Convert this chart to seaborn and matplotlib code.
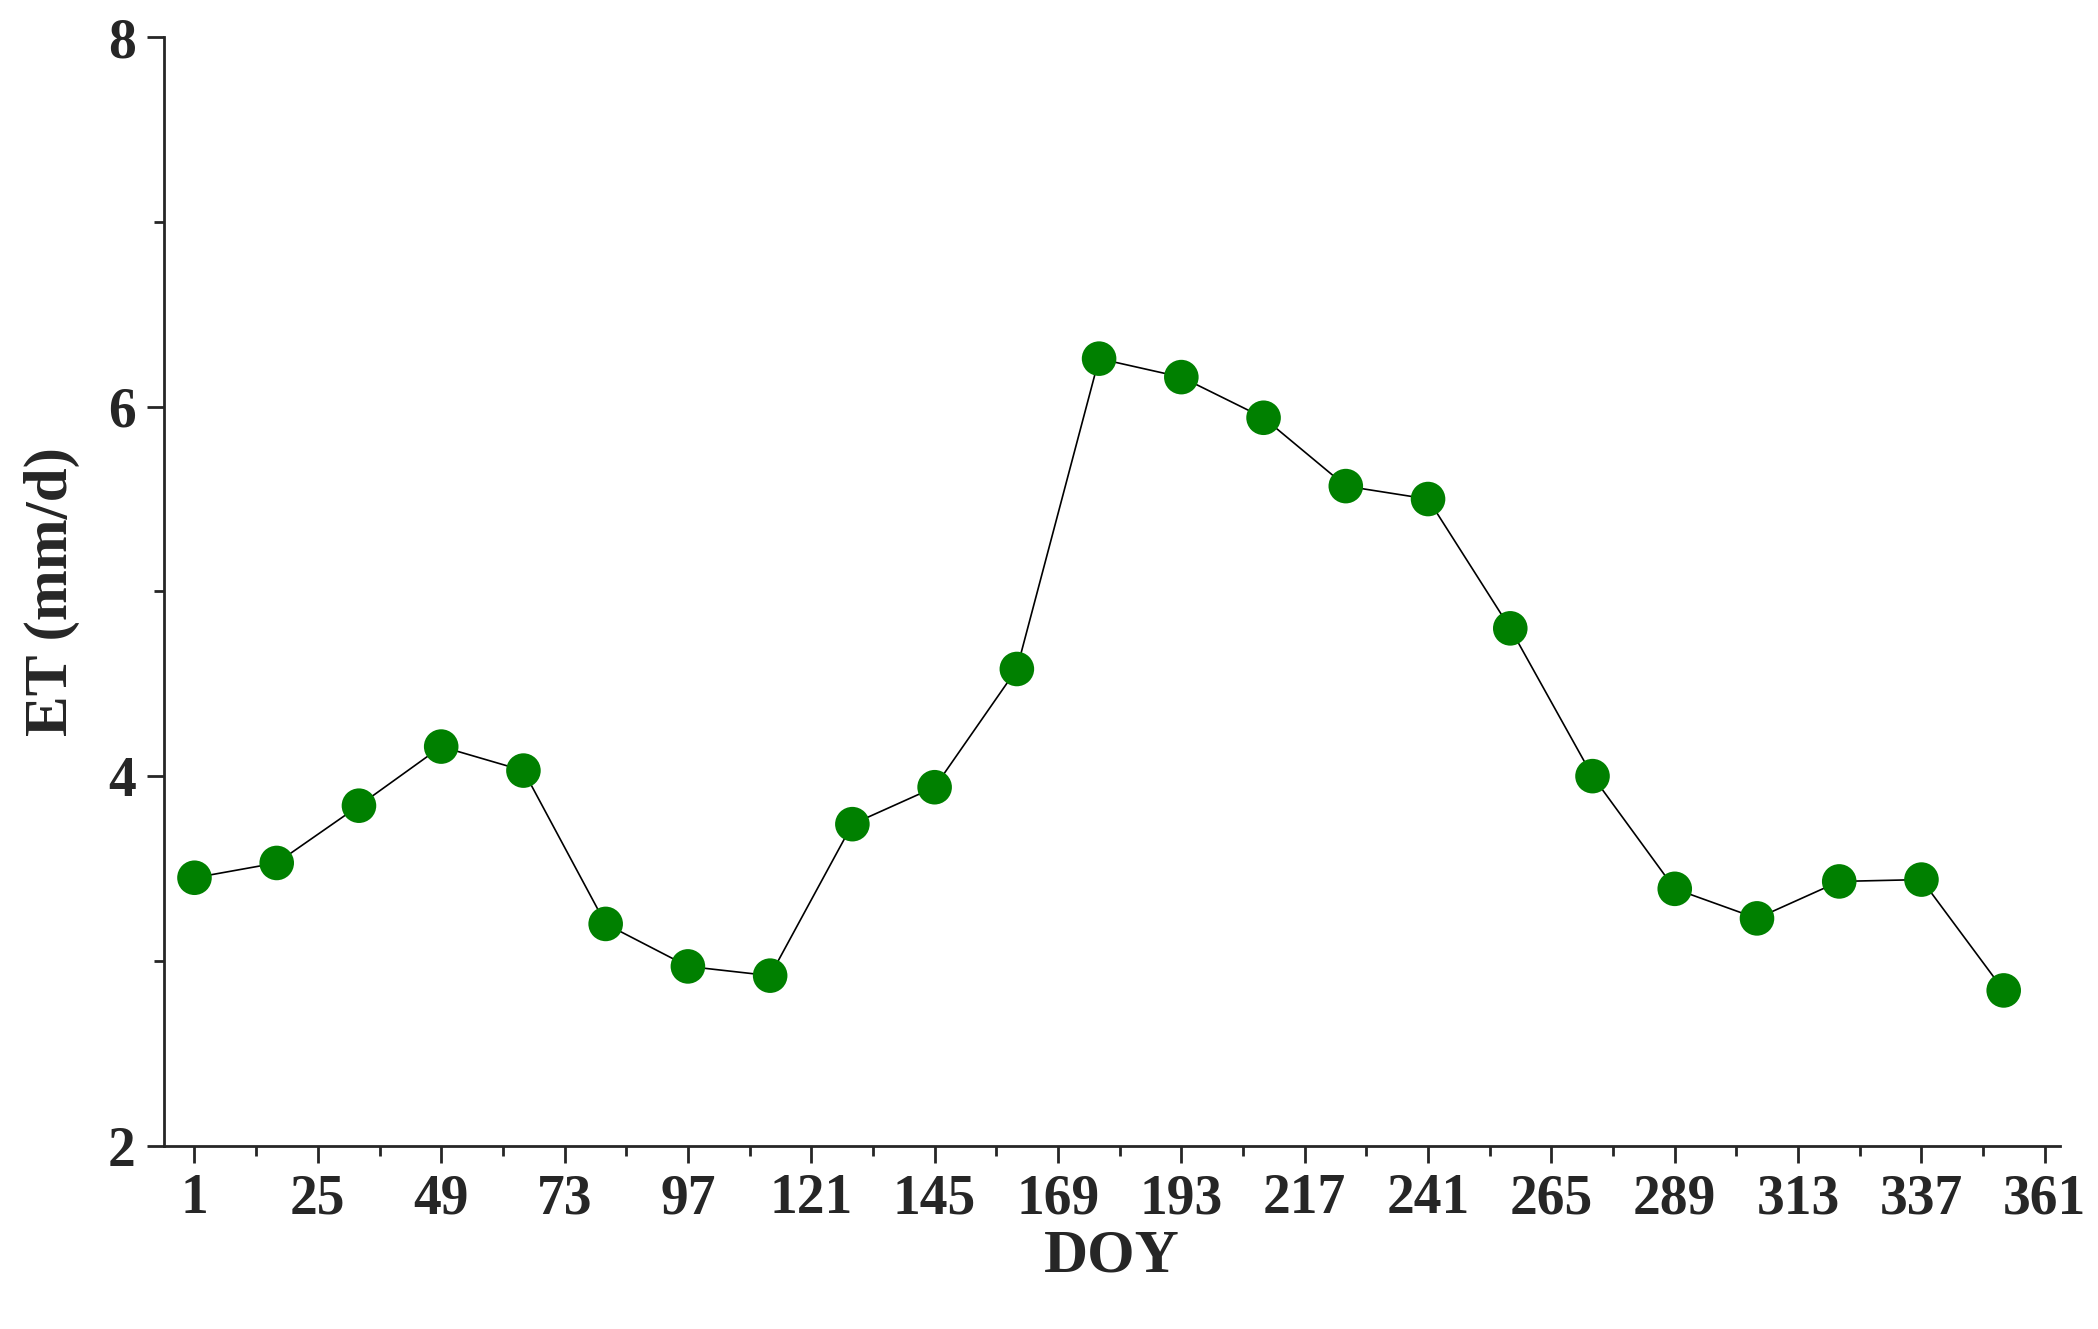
import numpy as np
import pandas as pd
import matplotlib
matplotlib.use("Agg")
import matplotlib.pyplot as plt
import seaborn as sns
from matplotlib.ticker import MultipleLocator

# 16-day composite ET values
doy = [1, 17, 33, 49, 65, 81, 97, 113, 129, 145, 161, 177,
       193, 209, 225, 241, 257, 273, 289, 305, 321, 337, 353]
et = [3.45, 3.53, 3.84, 4.16, 4.03, 3.20, 2.97, 2.92, 3.74, 3.94, 4.58, 6.26,
      6.16, 5.94, 5.57, 5.50, 4.80, 4.00, 3.39, 3.23, 3.43, 3.44, 2.84]
xticks = list(range(1, 362, 24))
yticks = [2, 4, 6, 8]

sns.set_style('ticks')
plt.rcParams['font.family'] = ['Liberation Serif', 'DejaVu Serif']
plt.rcParams['font.weight'] = 'bold'

df = pd.DataFrame({'DOY': doy, 'ET': et})

fig = plt.figure(figsize=(20.98, 13.29), dpi=100)
ax = fig.add_axes([0.078, 0.138, 0.904, 0.834])

sns.lineplot(data=df, x='DOY', y='ET', ax=ax, color='black', linewidth=1.2)
sns.scatterplot(data=df, x='DOY', y='ET', ax=ax, color='#008000', s=620,
                edgecolor='none', zorder=3)

ax.set_xlim(-5, 364)
ax.set_ylim(2, 8)
ax.set_xticks(xticks)
ax.set_yticks(yticks)
ax.xaxis.set_minor_locator(MultipleLocator(12))
ax.yaxis.set_minor_locator(MultipleLocator(1))
ax.xaxis.set_minor_locator(matplotlib.ticker.FixedLocator(list(range(13, 362, 24))))
ax.tick_params(axis='both', which='major', direction='out', length=12, width=2,
               labelsize=40, pad=8)
ax.tick_params(axis='both', which='minor', direction='out', length=7, width=2)
for lab in ax.get_xticklabels() + ax.get_yticklabels():
    lab.set_fontweight('bold')

for side in ['top', 'right']:
    ax.spines[side].set_visible(False)
for side in ['left', 'bottom']:
    ax.spines[side].set_linewidth(2)

ax.set_xlabel('DOY', fontsize=44, fontweight='bold', labelpad=2)
ax.set_ylabel('ET (mm/d)', fontsize=44, fontweight='bold', labelpad=20)

fig.savefig('out.png', dpi=100)
